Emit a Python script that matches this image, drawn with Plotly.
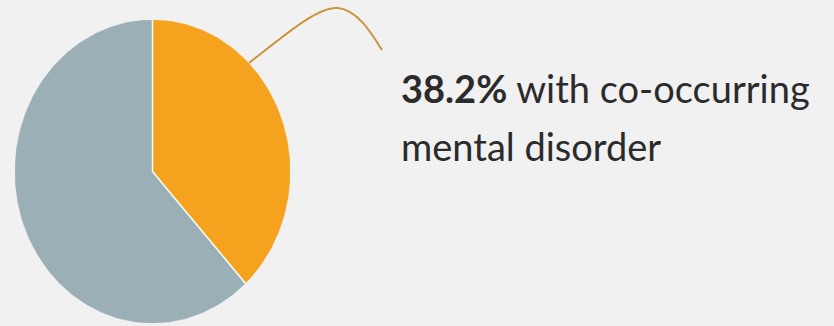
import numpy as np
import plotly.graph_objects as go

# ---- data ----
labels = ["With co-occurring mental disorder", "Without co-occurring mental disorder"]
values = [38.2, 61.8]
colors = ["#F5A21E", "#9BAFB6"]
label_pct = "38.2%"
label_line1 = " with co-occurring"
label_line2 = "mental disorder"

W, H = 834, 326
BG = "#F1F1F1"

fig = go.Figure()

# pie drawn as filled sectors of a unit circle on axes scaled to the target ellipse
total = float(sum(values))
cum = 0.0
edges = []
for lab, v, c in zip(labels, values, colors):
    f0 = cum / total
    f1 = (cum + v) / total
    cum += v
    edges.append(f0)
    n = max(4, int(360 * (f1 - f0)))
    t = np.linspace(f0, f1, n)
    ang = np.pi / 2 - 2 * np.pi * t
    xs = np.concatenate([[0.0], np.cos(ang), [0.0]])
    ys = np.concatenate([[0.0], np.sin(ang), [0.0]])
    fig.add_trace(go.Scatter(
        x=xs, y=ys, mode="lines", fill="toself", fillcolor=c,
        line=dict(color=c, width=0.5), name=lab,
        hoverinfo="name", showlegend=False,
    ))

# white dividers between slices
ex, ey = [], []
for f in edges:
    a = np.pi / 2 - 2 * np.pi * f
    ex += [0.0, float(np.cos(a)), None]
    ey += [0.0, float(np.sin(a)), None]
fig.add_trace(go.Scatter(x=ex, y=ey, mode="lines", line=dict(color="white", width=1.5),
                         hoverinfo="skip", showlegend=False))

# pixel layout of pie: x 15..290, y 20..323 (from top)
x0, x1 = 15, 290
yt, yb = 20, 323
fig.update_layout(
    width=W, height=H,
    margin=dict(l=0, r=0, t=0, b=0),
    paper_bgcolor=BG, plot_bgcolor="rgba(0,0,0,0)",
    showlegend=False,
    xaxis=dict(domain=[x0 / W, x1 / W], range=[-1, 1], visible=False, fixedrange=True),
    yaxis=dict(domain=[1 - yb / H, 1 - yt / H], range=[-1, 1], visible=False, fixedrange=True),
    xaxis2=dict(domain=[0, 1], range=[0, W], visible=False, anchor="y2", fixedrange=True),
    yaxis2=dict(domain=[0, 1], range=[H, 0], visible=False, anchor="x2", fixedrange=True),
)

# connector curve (pixel coordinates on overlay axes)
fig.add_shape(
    type="path", xref="x2", yref="y2",
    path="M 249,63 C 285,35 318,6 338,8 C 358,10 372,34 382,50",
    line=dict(color="#C99640", width=2),
)

font = dict(family="Lato, 'Open Sans', sans-serif", size=38, color="#2B2B2B")
fig.add_annotation(
    xref="paper", yref="paper", x=399 / W, y=1 - 88 / H,
    xanchor="left", yanchor="middle", showarrow=False,
    text="<b>" + label_pct + "</b>" + label_line1, font=font, align="left",
)
fig.add_annotation(
    xref="paper", yref="paper", x=399 / W, y=1 - 146 / H,
    xanchor="left", yanchor="middle", showarrow=False,
    text=label_line2, font=font, align="left",
)

fig.write_html("out.html", config={"displayModeBar": False},
               post_script="document.body.style.margin='0px';")
